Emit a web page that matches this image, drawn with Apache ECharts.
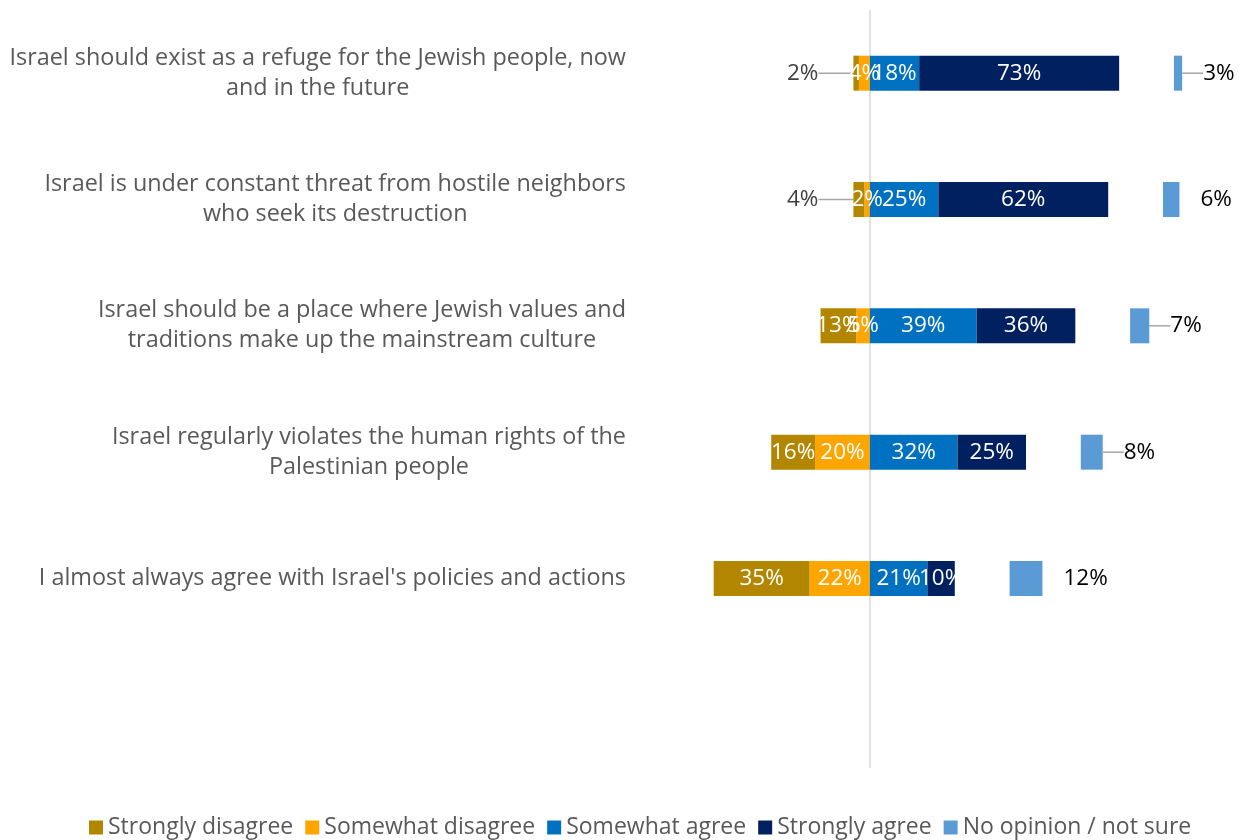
<!DOCTYPE html>
<html>
<head>
<meta charset="utf-8">
<script src="https://cdn.jsdelivr.net/npm/echarts@6/dist/echarts.min.js"></script>
<style>
  html, body { margin: 0; padding: 0; background: #ffffff; }
  #chart { width: 1245px; height: 840px; }
</style>
</head>
<body>
<div id="chart"></div>
<script>
// Survey statements (top to bottom)
const statements = [
  'Israel should exist as a refuge for the Jewish people, now\nand in the future',
  'Israel is under constant threat from hostile neighbors\nwho seek its destruction',
  'Israel should be a place where Jewish values and\ntraditions make up the mainstream culture',
  'Israel regularly violates the human rights of the\nPalestinian people',
  "I almost always agree with Israel's policies and actions"
];

// Response shares, percent
const strongDisagree = [2, 4, 13, 16, 35];
const someDisagree   = [4, 2, 5, 20, 22];
const someAgree      = [18, 25, 39, 32, 21];
const strongAgree    = [73, 62, 36, 25, 10];
const noOpinion      = [3, 6, 7, 8, 12];

const seriesNames = ['Strongly disagree', 'Somewhat disagree', 'Somewhat agree', 'Strongly agree', 'No opinion / not sure'];

// Styling
const FONT = 'Open Sans';
const FS_CAT = 23.4;
const FS_LEGEND = 23;
const FS_VALUE = 22.5;
const COLORS = {
  sd: '#B38600',
  swd: '#FFA500',
  swa: '#0070C0',
  sa: '#002060',
  no: '#5B9BD5'
};
const SPACER = 20;                 // blank space between the agree bars and the "no opinion" bar
const noOpinionLeader = [true, false, true, true, false];

const pct = v => Math.abs(v) + '%';
const insideLabel = {
  show: true, position: 'inside', color: '#ffffff',
  fontFamily: FONT, fontSize: FS_VALUE, formatter: p => pct(p.value)
};

// One empty row below the statements keeps the spacing of the layout
const rows = statements.concat(['']);

const chart = echarts.init(document.getElementById('chart'), null, { renderer: 'canvas' });

const option = {
  backgroundColor: '#ffffff',
  animation: false,
  grid: { left: 637, width: 589, top: 10, bottom: 72, containLabel: false },
  xAxis: {
    type: 'value', min: -85, max: 130,
    show: false, splitLine: { show: false }
  },
  yAxis: {
    type: 'category', inverse: true, data: rows,
    axisLine: { show: false }, axisTick: { show: false },
    axisLabel: {
      margin: 11, align: 'right',
      formatter: v => v.split('\n').map(l => '{c|' + l + '}').join('\n'),
      rich: {
        c: { align: 'center', fontFamily: FONT, fontSize: FS_CAT, color: '#595959', lineHeight: 30 }
      }
    }
  },
  legend: {
    data: seriesNames,
    bottom: -4, left: 84,
    icon: 'rect', itemWidth: 14, itemHeight: 14, itemGap: 12,
    textStyle: { fontFamily: FONT, fontSize: FS_LEGEND, color: '#595959' }
  },
  series: [
    {
      name: 'Somewhat disagree', type: 'bar', stack: 'total', barWidth: 35,
      itemStyle: { color: COLORS.swd },
      label: insideLabel,
      data: someDisagree.map(v => -v)
    },
    {
      name: 'Strongly disagree', type: 'bar', stack: 'total', barWidth: 35,
      itemStyle: { color: COLORS.sd },
      label: insideLabel,
      labelLine: { show: false, lineStyle: { color: '#a6a6a6', width: 1.5 } },
      labelLayout: p => (strongDisagree[p.dataIndex] < 5 ? { dx: -30 } : {}),
      data: strongDisagree.map(v => v < 5
        ? { value: -v, label: { position: 'left', color: '#404040' }, labelLine: { show: true } }
        : -v)
    },
    {
      name: 'Somewhat agree', type: 'bar', stack: 'total', barWidth: 35,
      itemStyle: { color: COLORS.swa },
      label: insideLabel,
      data: someAgree,
      markLine: {
        silent: true, symbol: 'none', z: 1,
        label: { show: false },
        lineStyle: { color: '#d9d9d9', width: 1.5, type: 'solid' },
        data: [{ xAxis: 0 }]
      }
    },
    {
      name: 'Strongly agree', type: 'bar', stack: 'total', barWidth: 35,
      itemStyle: { color: COLORS.sa },
      label: insideLabel,
      data: strongAgree
    },
    {
      name: 'spacer', type: 'bar', stack: 'total', barWidth: 35, silent: true,
      itemStyle: { color: 'rgba(0,0,0,0)' },
      label: { show: false },
      data: noOpinion.map(() => SPACER)
    },
    {
      name: 'No opinion / not sure', type: 'bar', stack: 'total', barWidth: 35,
      itemStyle: { color: COLORS.no },
      label: {
        show: true, position: 'right', distance: 5, color: '#000000',
        fontFamily: FONT, fontSize: FS_VALUE, formatter: p => pct(p.value)
      },
      labelLine: { show: false, lineStyle: { color: '#a6a6a6', width: 1.5 } },
      labelLayout: () => ({ dx: 16 }),
      data: noOpinion.map((v, i) => noOpinionLeader[i]
        ? { value: v, labelLine: { show: true } }
        : v)
    }
  ]
};

chart.setOption(option);
</script>
</body>
</html>
